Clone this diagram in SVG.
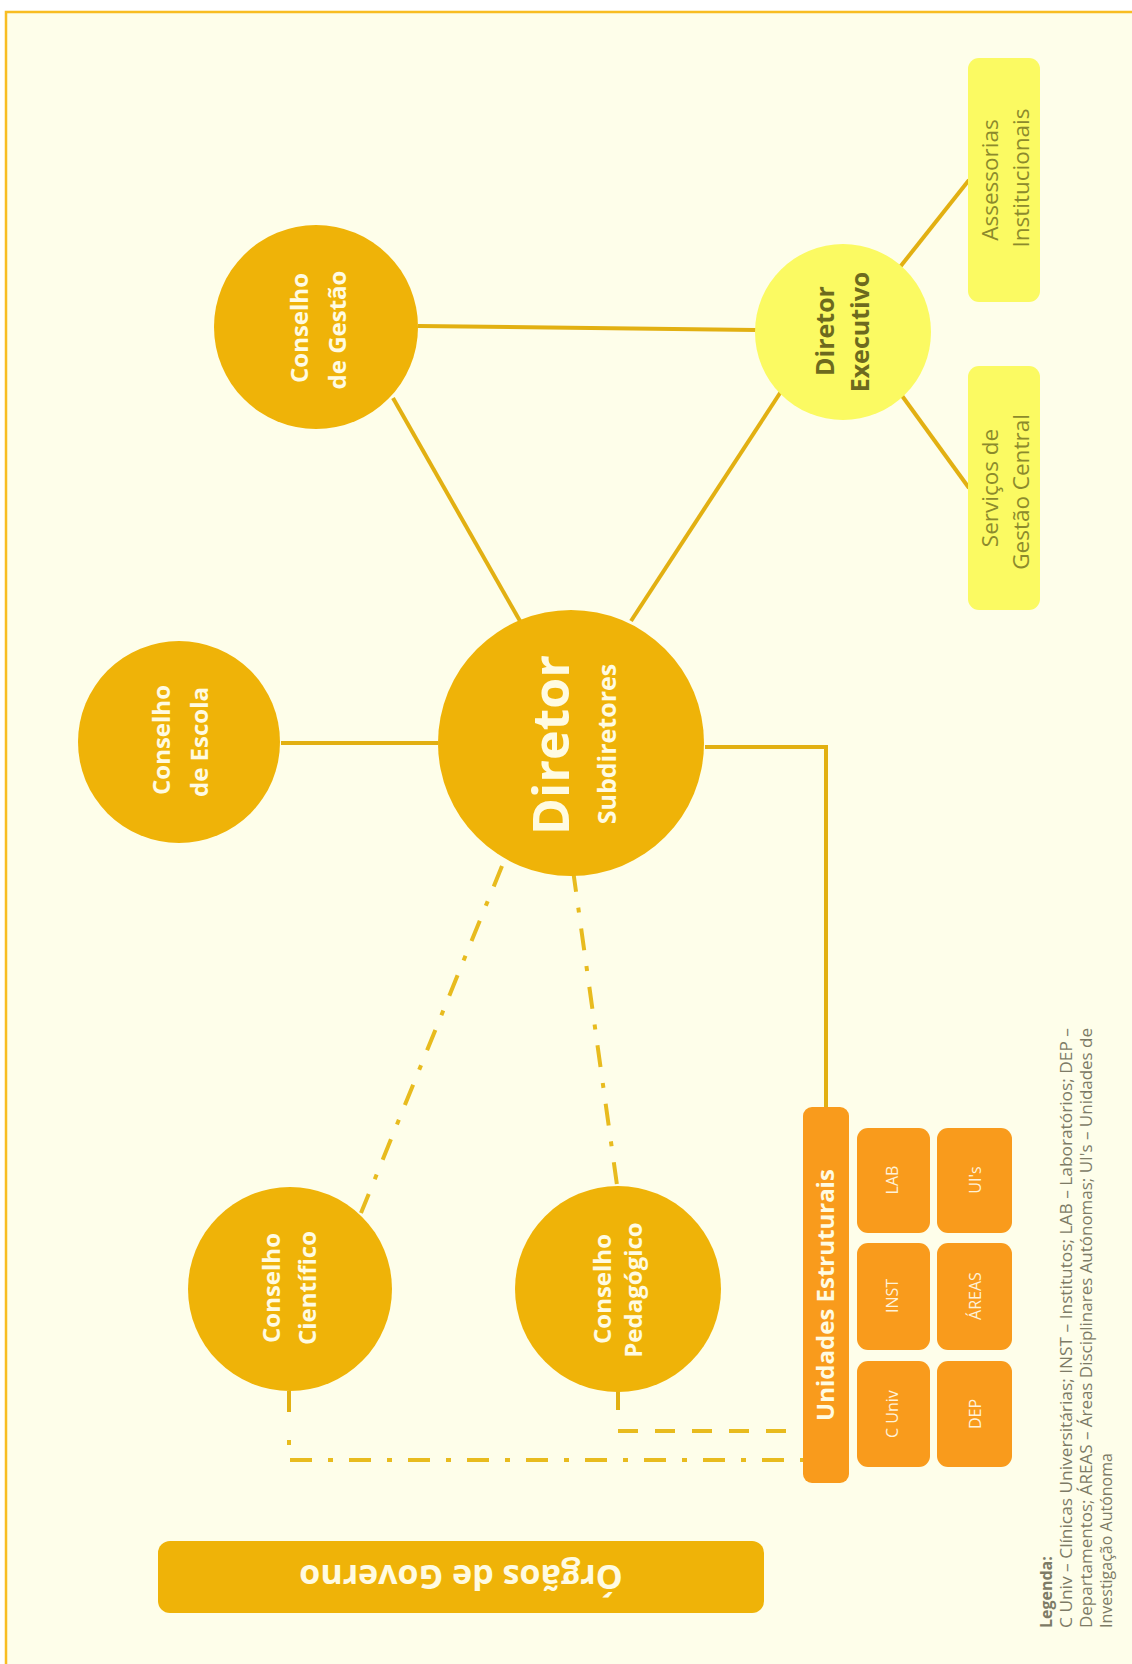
<svg xmlns="http://www.w3.org/2000/svg" width="1132" height="1664" viewBox="0 0 1132 1664">
<style>
text{font-family:"Open Sans","DejaVu Sans",sans-serif}
.gold{fill:#efb308}
.wt{fill:#fffbe2;font-weight:bold}
.c{stroke:#e2b012;stroke-width:4;fill:none}
.dd{stroke:#e8bb1e;stroke-width:4;fill:none;stroke-dasharray:22 16 5 16}
.ds{stroke:#e8bb1e;stroke-width:4;fill:none;stroke-dasharray:20 17}
.or{fill:#f99b1c}
.yl{fill:#fbfa62}
.olive{fill:#8c8a2c;font-size:22.5px}
.lab{fill:#fff2d8;font-size:16px}
.leg{fill:#7d7b66;font-size:16px}
</style>
<rect x="0" y="0" width="1132" height="1664" fill="#ffffff"/>
<rect x="6" y="12" width="1130" height="1660" fill="#fefeea" stroke="#f8bd22" stroke-width="2.5"/>
<g id="connectors">
<line class="c" x1="418" y1="326" x2="756" y2="330"/>
<line class="c" x1="393" y1="398" x2="520" y2="621"/>
<line class="c" x1="782" y1="390" x2="631" y2="621"/>
<line class="c" x1="900" y1="267" x2="969" y2="180"/>
<line class="c" x1="900" y1="393" x2="969" y2="488"/>
<line class="c" x1="281" y1="743" x2="438" y2="743"/>
<polyline class="c" points="705,747 826,747 826,1108"/>
<line class="dd" x1="502" y1="866" x2="361" y2="1213"/>
<line class="dd" x1="573" y1="870" x2="617" y2="1185"/>
<line class="c" x1="289" y1="1391" x2="289" y2="1412"/>
<path class="dd" d="M289 1428 V1460 H803" style="stroke-dashoffset:26"/>
<line class="c" x1="618" y1="1391" x2="618" y2="1410"/>
<path class="ds" d="M618 1431 H803"/>
</g>
<g id="conselho-gestao">
<circle class="gold" cx="316" cy="327" r="102"/>
<text class="wt" font-size="24" text-anchor="middle" transform="translate(308,328) rotate(-90)">Conselho</text>
<text class="wt" font-size="24" text-anchor="middle" transform="translate(346,330) rotate(-90)">de Gestão</text>
</g>
<g id="conselho-escola">
<circle class="gold" cx="179" cy="742" r="101"/>
<text class="wt" font-size="24" text-anchor="middle" transform="translate(170,740) rotate(-90)">Conselho</text>
<text class="wt" font-size="24" text-anchor="middle" transform="translate(208,742) rotate(-90)">de Escola</text>
</g>
<g id="diretor">
<circle class="gold" cx="571" cy="743" r="133"/>
<text class="wt" font-size="50" text-anchor="middle" transform="translate(569,745) rotate(-90)">Diretor</text>
<text class="wt" font-size="25" text-anchor="middle" transform="translate(616,744) rotate(-90)">Subdiretores</text>
</g>
<g id="conselho-cientifico">
<circle class="gold" cx="290" cy="1289" r="102"/>
<text class="wt" font-size="24" text-anchor="middle" transform="translate(280,1288) rotate(-90)">Conselho</text>
<text class="wt" font-size="24" text-anchor="middle" transform="translate(316,1288) rotate(-90)">Científico</text>
</g>
<g id="conselho-pedagogico">
<circle class="gold" cx="618" cy="1289" r="103"/>
<text class="wt" font-size="24" text-anchor="middle" transform="translate(611,1289) rotate(-90)">Conselho</text>
<text class="wt" font-size="24" text-anchor="middle" transform="translate(642,1290) rotate(-90)">Pedagógico</text>
</g>
<g id="diretor-executivo">
<circle class="yl" cx="843" cy="332" r="88"/>
<text font-size="25" font-weight="bold" fill="#6d6a1e" text-anchor="middle" transform="translate(834,331) rotate(-90)">Diretor</text>
<text font-size="25" font-weight="bold" fill="#6d6a1e" text-anchor="middle" transform="translate(869,332) rotate(-90)">Executivo</text>
</g>
<g id="assessorias">
<rect class="yl" x="968" y="58" width="72" height="244" rx="11"/>
<text class="olive" text-anchor="middle" transform="translate(998,180) rotate(-90)">Assessorias</text>
<text class="olive" text-anchor="middle" transform="translate(1029,178) rotate(-90)">Institucionais</text>
</g>
<g id="servicos">
<rect class="yl" x="968" y="366" width="72" height="244" rx="11"/>
<text class="olive" text-anchor="middle" transform="translate(998,488) rotate(-90)">Serviços de</text>
<text class="olive" text-anchor="middle" transform="translate(1029,492) rotate(-90)">Gestão Central</text>
</g>
<g id="unidades-estruturais">
<rect class="or" x="803" y="1107" width="46" height="376" rx="9"/>
<text class="wt" font-size="24" text-anchor="middle" transform="translate(834,1295) rotate(-90)">Unidades Estruturais</text>
</g>
<g id="lab"><rect class="or" x="857" y="1128" width="73" height="105" rx="11"/><text class="lab" text-anchor="middle" transform="translate(898,1180) rotate(-90)">LAB</text></g>
<g id="inst"><rect class="or" x="857" y="1243" width="73" height="107" rx="11"/><text class="lab" text-anchor="middle" transform="translate(898,1296) rotate(-90)">INST</text></g>
<g id="cuniv"><rect class="or" x="857" y="1361" width="73" height="106" rx="11"/><text class="lab" text-anchor="middle" transform="translate(898,1414) rotate(-90)">C Univ</text></g>
<g id="uis"><rect class="or" x="937" y="1128" width="75" height="105" rx="11"/><text class="lab" text-anchor="middle" transform="translate(981,1180) rotate(-90)">UI's</text></g>
<g id="areas"><rect class="or" x="937" y="1243" width="75" height="107" rx="11"/><text class="lab" text-anchor="middle" transform="translate(981,1296) rotate(-90)">ÁREAS</text></g>
<g id="dep"><rect class="or" x="937" y="1361" width="75" height="106" rx="11"/><text class="lab" text-anchor="middle" transform="translate(981,1414) rotate(-90)">DEP</text></g>
<g id="orgaos-governo">
<rect class="gold" x="158" y="1541" width="606" height="72" rx="12"/>
<text class="wt" font-size="34" text-anchor="middle" transform="translate(461,1577) rotate(180)" y="12">Órgãos de Governo</text>
</g>
<g id="legenda">
<text class="leg" font-weight="bold" transform="translate(1052,1628) rotate(-90)">Legenda:</text>
<text class="leg" textLength="600" lengthAdjust="spacingAndGlyphs" transform="translate(1072,1628) rotate(-90)">C Univ – Clínicas Universitárias; INST – Institutos; LAB – Laboratórios; DEP –</text>
<text class="leg" textLength="600" lengthAdjust="spacingAndGlyphs" transform="translate(1092,1628) rotate(-90)">Departamentos; ÁREAS – Áreas Disciplinares Autónomas; UI's – Unidades de</text>
<text class="leg" transform="translate(1112,1628) rotate(-90)">Investigação Autónoma</text>
</g>
</svg>
